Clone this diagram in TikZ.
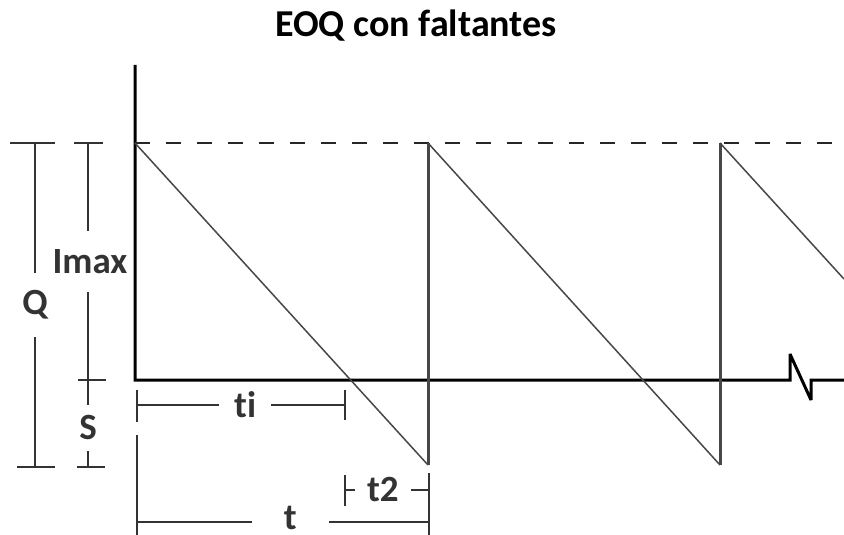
\documentclass[tikz,border=0pt]{standalone}
\usepackage{fontspec}
\setmainfont{Carlito}[Ligatures=NoCommon]
\usetikzlibrary{positioning}

\begin{document}
\begin{tikzpicture}[
  x=1pt, y=-1pt,
  every node/.style={font=\fontsize{37}{37}\selectfont\bfseries},
  axis/.style={line width=3pt, black, line join=miter, miter limit=2},
  level/.style={line width=1.4pt, black!85, dash pattern=on 15pt off 16pt},
  stock/.style={line width=1.5pt, black!72},
  refill/.style={line width=3pt, black!72},
  dim/.style={line width=1.6pt, black!80},
  vlbl/.style={fill=white, inner xsep=1pt, inner ysep=18pt},
  hlbl/.style={fill=white, inner ysep=1pt, inner xsep=15pt},
]
\useasboundingbox (0,0) rectangle (844,535);
\node[font=\fontsize{38}{38}\selectfont\bfseries] (title) at (416,26) {EOQ con faltantes};

% Axes with break
\coordinate (O) at (135,380);
\coordinate (ytop) at (135,65);
\draw[axis] (ytop) -- (O) -- (790,380) -- (790,354) -- (811,400) -- (811,380) -- (844,380);
\draw[level] (135,143) -- (844,143);

% Inventory sawtooth
\coordinate (top1) at (135,143);
\coordinate (low1) at (428,465);
\coordinate (top2) at (428,143);
\coordinate (low2) at (720,465);
\coordinate (top3) at (720,143);
\coordinate (cut) at (844,279);
\draw[stock] (top1) -- (low1);
\draw[refill] (low1) -- (top2);
\draw[stock] (top2) -- (low2);
\draw[refill] (low2) -- (top3);
\draw[stock] (top3) -- (cut);

% Left: Q, Imax, S
\draw[dim] (10,143) -- (55,143);
\draw[dim] (17,467) -- (55,467);
\draw[dim] (35,143) -- node[vlbl] (q) {Q} (35,467);
\draw[dim] (74,143) -- (103,143);
\draw[dim] (78,380) -- (106,380);
\draw[dim] (77,467) -- (105,467);
\draw[dim] (88,143) -- node[vlbl, xshift=2pt] (imax) {Imax} (88,380);
\draw[dim] (88,380) -- node[vlbl, inner ysep=11pt, pos=0.55] (s) {S} (88,467);

% Bottom: ti, t2, t
\draw[dim] (137,390) -- (137,422);
\draw[dim] (345,390) -- (345,420);
\draw[dim] (137,405) -- node[hlbl, pos=0.52] (ti) {ti} (345,405);
\draw[dim] (345,475) -- (345,506);
\draw[dim] (429,473) -- (429,535);
\draw[dim] (345,490) -- node[hlbl, inner xsep=12pt, pos=0.45] (t2) {t2} (429,490);
\draw[dim] (137,435) -- (137,535);
\draw[dim] (137,522) -- node[hlbl, inner xsep=32pt, inner ysep=0pt, pos=0.525, yshift=4pt] (t) {t} (429,522);
\end{tikzpicture}
\end{document}
